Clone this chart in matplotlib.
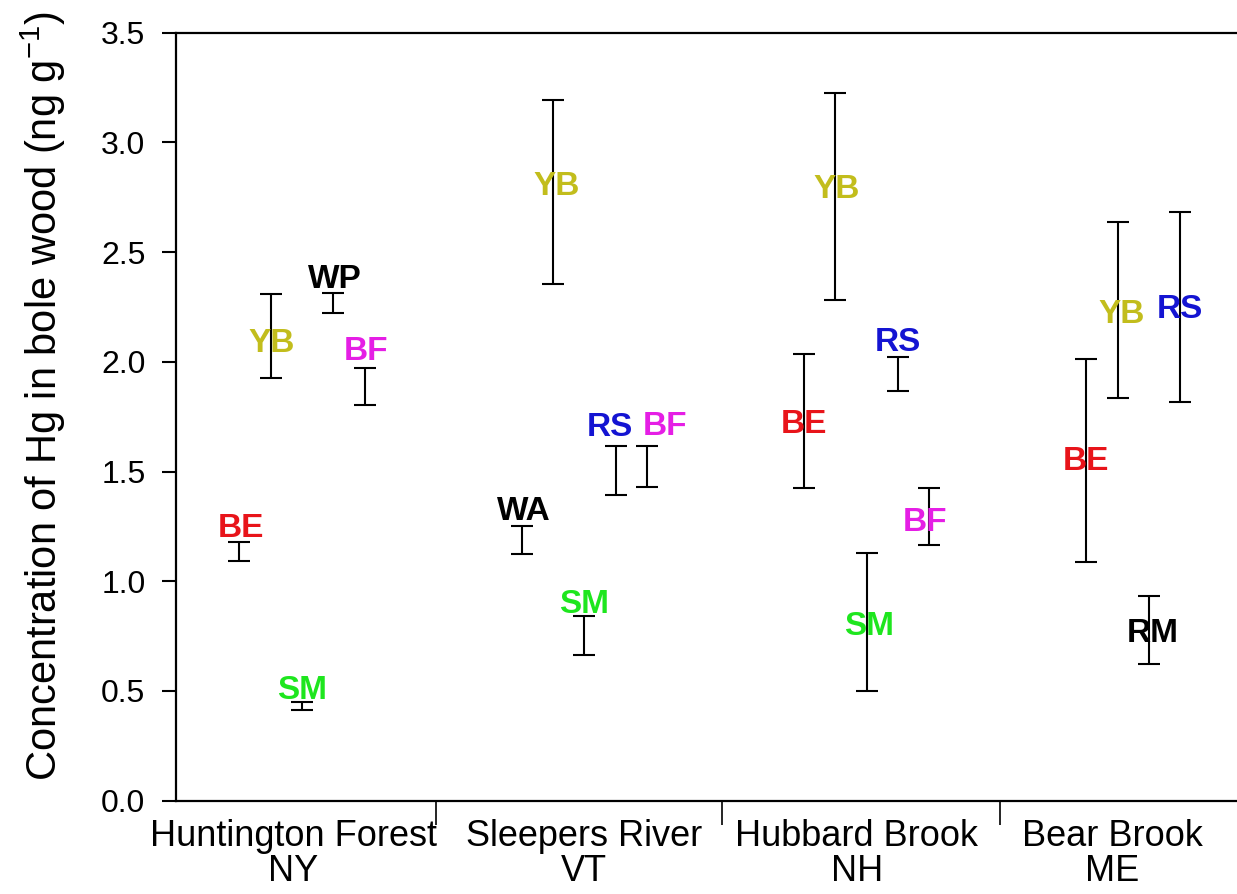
import matplotlib
matplotlib.use("Agg")
import matplotlib.pyplot as plt
from matplotlib.ticker import FixedLocator, NullFormatter

plt.rcParams["font.family"] = ["Liberation Sans", "DejaVu Sans"]
plt.rcParams["mathtext.fontset"] = "custom"
plt.rcParams["mathtext.rm"] = "Liberation Sans"
plt.rcParams["mathtext.it"] = "Liberation Sans:italic"
plt.rcParams["mathtext.bf"] = "Liberation Sans:bold"

# sites (category axis)
sites = ["Huntington Forest\nNY", "Sleepers River\nVT", "Hubbard Brook\nNH", "Bear Brook\nME"]

# species per site, error bar low/high and where the label sits (ng/g)
hf_species = ["BE", "YB", "SM", "WP", "BF"]
hf_low = [1.094, 1.927, 0.414, 2.224, 1.802]
hf_high = [1.179, 2.310, 0.452, 2.312, 1.973]
hf_label = [1.258, 2.102, 0.520, 2.391, 2.064]

sr_species = ["WA", "YB", "SM", "RS", "BF"]
sr_low = [1.126, 2.356, 0.665, 1.393, 1.431]
sr_high = [1.251, 3.192, 0.841, 1.618, 1.618]
sr_label = [1.333, 2.815, 0.909, 1.716, 1.720]

hb_species = ["BE", "YB", "SM", "RS", "BF"]
hb_low = [1.426, 2.283, 0.500, 1.869, 1.165]
hb_high = [2.036, 3.227, 1.127, 2.020, 1.426]
hb_label = [1.733, 2.802, 0.812, 2.106, 1.285]

bb_species = ["BE", "YB", "RM", "RS"]
bb_low = [1.089, 1.833, 0.624, 1.816]
bb_high = [2.015, 2.637, 0.934, 2.683]
bb_label = [1.562, 2.231, 0.779, 2.254]

y_ticks = [0.0, 0.5, 1.0, 1.5, 2.0, 2.5, 3.0, 3.5]

# styling / layout
colors = {"BE": "#e8141a", "YB": "#c2bd1c", "SM": "#1ee61e", "BF": "#e51ee5",
          "RS": "#1414d2", "WP": "black", "WA": "black", "RM": "black"}
# nudges of the text labels relative to their bars (points)
label_dx = [[1, 1, 0, 1, 1],
            [2, 3, 0, -4, 13],
            [0, 1, 2, 0, -3],
            [0, 3, 3, 0]]
slot = 1 / 9
boundaries = [1.475, 2.488, 3.473]
label_pos = [0.97, 2.0, 2.965, 3.87]

groups = [(hf_species, hf_low, hf_high, hf_label),
          (sr_species, sr_low, sr_high, sr_label),
          (hb_species, hb_low, hb_high, hb_label),
          (bb_species, bb_low, bb_high, bb_label)]

fig = plt.figure(figsize=(12.37, 8.94), dpi=100)
ax = fig.add_axes([176 / 1237, 93.3 / 894, 1064 / 1237, 768 / 894])

for i, (sp, lo, hi, lab) in enumerate(groups):
    site = i + 1
    for k in range(len(sp)):
        x = site + (k - 2) * slot
        mid = (lo[k] + hi[k]) / 2
        ax.errorbar([x], [mid], yerr=[[mid - lo[k]], [hi[k] - mid]], fmt="none",
                    ecolor="black", elinewidth=1.5, capsize=8, capthick=1.5)
        ax.annotate(sp[k], (x, lab[k]), xytext=(label_dx[i][k], -8.7),
                    textcoords="offset points", ha="center", va="baseline",
                    fontsize=24, fontweight="bold", color=colors[sp[k]])

ax.set_xlim(0.5537, 4.3227)
ax.set_ylim(0, 3.5)
ax.set_yticks(y_ticks)
ax.set_yticklabels([f"{v:.1f}" for v in y_ticks], fontsize=23)
ax.tick_params(axis="y", direction="out", length=10, width=1.5, pad=12)

ax.xaxis.set_major_locator(FixedLocator(boundaries))
ax.xaxis.set_major_formatter(NullFormatter())
ax.xaxis.set_minor_locator(FixedLocator(label_pos))
ax.set_xticklabels(sites, minor=True, fontsize=26, linespacing=1.0)
ax.tick_params(axis="x", which="major", direction="out", length=17, width=1.2)
ax.tick_params(axis="x", which="minor", length=0, pad=13)

for s in ax.spines.values():
    s.set_linewidth(1.6)

fig.text(43 / 1237, 1 - 396 / 894, r"Concentration of Hg in bole wood (ng g$^{\mathregular{-1}}$)",
         rotation=90, ha="center", va="center", fontsize=30)

fig.savefig("out.png", dpi=100)
